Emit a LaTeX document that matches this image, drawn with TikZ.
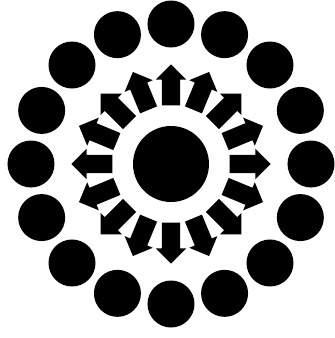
\documentclass[tikz,border=0pt]{standalone}
\usepackage{tikz}
\usetikzlibrary{shapes.arrows}

\begin{document}
\begin{tikzpicture}[
  x=1pt, y=1pt,
  core/.style={circle, fill=black, minimum size=76pt, inner sep=0pt},
  ball/.style={circle, fill=black, minimum size=47pt, inner sep=0pt},
  ray/.style={single arrow, fill=black, inner sep=0pt, text height=9pt, text depth=9pt,
    minimum height=41pt, single arrow head extend=6pt, single arrow head indent=0pt}
]
  \useasboundingbox (-171,-174) rectangle (164,164);
  % centre
  \node[core] (c) at (0,0) {};
  % arrows pointing outwards
  \foreach \i in {0,...,15}
    \node[ray, rotate=90+22.5*\i] (a\i) at (90+22.5*\i:74.5) {};
  % ring of dots
  \foreach \i in {0,...,15}
    \node[ball] (o\i) at (90+22.5*\i:140) {};
\end{tikzpicture}
\end{document}
